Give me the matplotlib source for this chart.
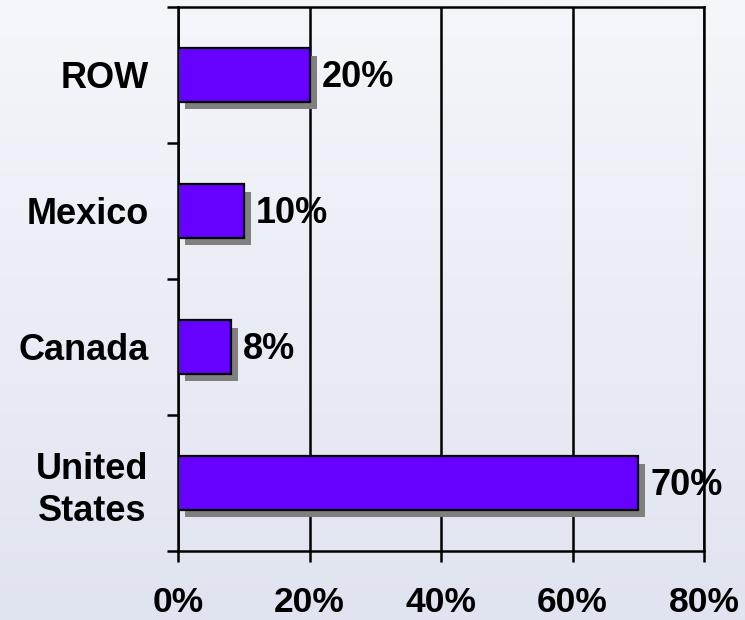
import numpy as np
import matplotlib
matplotlib.use("Agg")
import matplotlib.pyplot as plt
import matplotlib.patheffects as pe

# данные с картинки: снизу вверх
regions = ["United\nStates", "Canada", "Mexico", "ROW"]
shares = [70, 8, 10, 20]
x_ticks = [0, 20, 40, 60, 80]
x_labels = ["0%", "20%", "40%", "60%", "80%"]

BAR_COLOR = "#6600FF"
SHADOW = "#808080"
FONT = "Liberation Sans"

plt.rcParams["font.family"] = [FONT, "DejaVu Sans"]
plt.rcParams["font.weight"] = "bold"

fig = plt.figure(figsize=(7.45, 6.2), dpi=100)

# фон-градиент на всю картинку
bg = fig.add_axes([0, 0, 1, 1], zorder=-10)
top = np.array([245, 246, 251]) / 255
bottom = np.array([224, 228, 240]) / 255
t = np.linspace(0, 1, 256)[:, None]
grad = (top * (1 - t) + bottom * t)[:, None, :]
bg.imshow(grad, aspect="auto", extent=[0, 1, 0, 1])
bg.axis("off")

ax = fig.add_axes([178 / 745, 1 - 551 / 620, (704 - 178) / 745, (551 - 7) / 620])
ax.set_facecolor("none")

y = np.arange(len(regions))
bars = ax.barh(y, shares, height=0.39, color=BAR_COLOR, edgecolor="black",
               linewidth=1.6, zorder=3)
for b in bars:
    b.set_path_effects([
        pe.SimplePatchShadow(offset=(5.2, -5.2), shadow_rgbFace=SHADOW, alpha=1.0),
        pe.Normal(),
    ])

for yi, v in zip(y, shares):
    ax.annotate(f"{v}%", (v, yi), xytext=(9, -2), textcoords="offset points",
                ha="left", va="center", fontsize=26, fontweight="bold", zorder=5)

ax.set_xlim(0, 80)
ax.set_ylim(-0.5, len(regions) - 0.5)

ax.set_xticks(x_ticks)
ax.set_xticklabels(x_labels, fontsize=25.5, fontweight="bold")
ax.tick_params(axis="x", direction="out", length=8, width=1.8, pad=17)

ax.set_yticks(y)
ax.set_yticklabels(regions, fontsize=26, fontweight="bold", multialignment="center",
                   linespacing=1.25)
ax.set_yticks(np.arange(-0.5, len(regions)), minor=True)
ax.tick_params(axis="y", which="major", length=0, pad=21)
ax.tick_params(axis="y", which="minor", direction="out", length=8, width=1.8)

ax.xaxis.grid(True, color="black", linewidth=1.8)
ax.set_axisbelow(True)
for s in ax.spines.values():
    s.set_linewidth(1.8)

fig.savefig("out.png", dpi=100)
